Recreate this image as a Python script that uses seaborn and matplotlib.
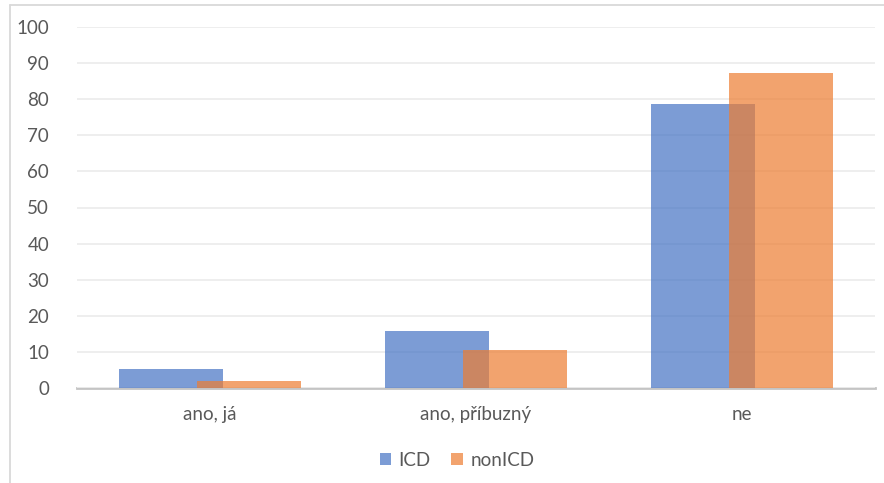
import matplotlib
matplotlib.use("Agg")
import matplotlib.pyplot as plt
from matplotlib.lines import Line2D
from matplotlib.patches import Patch
import numpy as np
import pandas as pd
import seaborn as sns

categories = ["ano, já", "ano, příbuzný", "ne"]
icd_values = [5.2, 15.8, 78.7]
nonicd_values = [2.0, 10.4, 87.3]
series_names = ["ICD", "nonICD"]
y_ticks = [0, 10, 20, 30, 40, 50, 60, 70, 80, 90, 100]

sns.set_theme(style="white")
plt.rcParams["font.family"] = ["Lato", "DejaVu Sans"]

text_color = "#595959"
colors = ["#4472C4", "#ED7D31"]
bar_width = 0.39
shift = 0.75 * bar_width / 2

fig = plt.figure(figsize=(8.84, 4.83), dpi=100)
ax = fig.add_axes([77 / 884, 1 - 388 / 483, (875 - 77) / 884, (388 - 27) / 483])

idx = np.arange(len(categories))
for values, name, color, sgn in zip([icd_values, nonicd_values], series_names, colors, [-1, 1]):
    df = pd.DataFrame({"pos": idx + sgn * shift, "value": values})
    sns.barplot(data=df, x="pos", y="value", native_scale=True, width=bar_width,
                color=color, alpha=0.7, linewidth=0, saturation=1, ax=ax, errorbar=None)

ax.set_xlim(-0.5, len(categories) - 0.5)
ax.set_ylim(0, 100)
ax.set_yticks(y_ticks)
ax.set_xticks(idx)
ax.set_xticklabels(categories)
ax.set_xlabel("")
ax.set_ylabel("")
ax.tick_params(axis="both", length=0, labelsize=13.5, colors=text_color)
ax.tick_params(axis="y", pad=20)
ax.tick_params(axis="x", pad=13)
ax.yaxis.grid(True, color="#ededed", linewidth=1.3)
ax.set_axisbelow(True)
for side in ["top", "right", "left"]:
    ax.spines[side].set_visible(False)
ax.spines["bottom"].set_color("#c4c4c4")
ax.spines["bottom"].set_linewidth(2)
ax.spines["bottom"].set_zorder(0.5)

handles = [Patch(facecolor=c, alpha=0.7, edgecolor="none") for c in colors]
fig.legend(handles, series_names, loc="center", bbox_to_anchor=(457 / 884, 1 - 460 / 483),
           ncol=2, frameon=False, fontsize=13.5, labelcolor=text_color,
           handlelength=0.6, handleheight=0.6, handletextpad=0.4, columnspacing=1.1)

# chart frame
frame_color = "#d9d9d9"
fig.add_artist(Line2D([10 / 884, 1], [1 - 4.5 / 483, 1 - 4.5 / 483], color=frame_color,
                      linewidth=1.3, transform=fig.transFigure))
fig.add_artist(Line2D([10 / 884, 10 / 884], [0, 1 - 4.5 / 483], color=frame_color,
                      linewidth=1.3, transform=fig.transFigure))

fig.savefig("out.png", dpi=100, facecolor="white")
